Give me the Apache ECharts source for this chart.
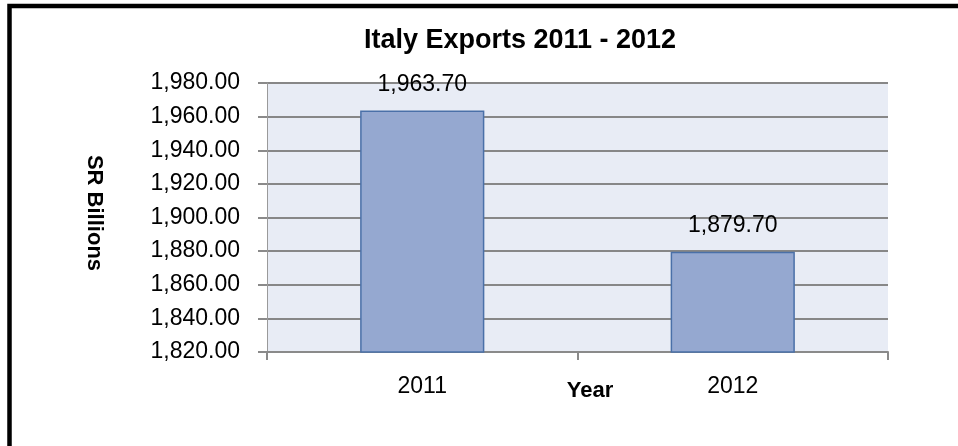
<!DOCTYPE html>
<html>
<head>
<meta charset="utf-8">
<script src="https://cdn.jsdelivr.net/npm/echarts@6/dist/echarts.min.js"></script>
<style>
html,body{margin:0;padding:0;background:#fff;}
#c{width:958px;height:446px;}
</style>
</head>
<body>
<div id="c"></div>
<script>
const titleText = 'Italy Exports 2011 - 2012';
const categories = ['2011', '2012'];
const exportsValues = [1963.70, 1879.70];
const yMin = 1820, yMax = 1980, yStep = 20;
const yName = 'SR Billions';
const xName = 'Year';

const FONT = '"Liberation Sans", Arial, sans-serif';
const fmt = v => Number(v).toLocaleString('en-US', {minimumFractionDigits: 2, maximumFractionDigits: 2});

const chart = echarts.init(document.getElementById('c'), null, {renderer: 'canvas'});
chart.setOption({
  animation: false,
  backgroundColor: '#ffffff',
  textStyle: {fontFamily: FONT},
  title: {
    text: titleText,
    left: 515, top: 22,
    textAlign: 'center',
    textStyle: {fontFamily: FONT, fontSize: 27, fontWeight: 'bold', color: '#000'}
  },
  grid: {
    left: 267, right: 70, top: 83, bottom: 94,
    show: true, backgroundColor: '#E8ECF5', borderWidth: 0
  },
  xAxis: {
    type: 'category',
    data: categories,
    boundaryGap: true,
    axisLine: {show: true, lineStyle: {color: '#8a8a8a', width: 2}},
    axisTick: {show: true, length: 8, alignWithLabel: false, lineStyle: {color: '#8a8a8a', width: 2}},
    axisLabel: {margin: 23, fontSize: 23, color: '#000', fontFamily: FONT}
  },
  yAxis: {
    type: 'value',
    min: yMin, max: yMax, interval: yStep,
    axisLine: {show: true, lineStyle: {color: '#9a9a9a', width: 1}},
    axisTick: {show: true, length: 9, lineStyle: {color: '#8a8a8a', width: 2}},
    splitLine: {show: true, lineStyle: {color: '#878787', width: 2}},
    axisLabel: {margin: 27, fontSize: 23, color: '#000', fontFamily: FONT, formatter: v => fmt(v)}
  },
  graphic: [
    {type: 'rect', silent: true, shape: {x: 9.5, y: 6, width: 1200, height: 800},
     style: {fill: 'none', stroke: '#000', lineWidth: 4.5}},
    {type: 'text', x: 94, y: 213, rotation: -Math.PI / 2,
     style: {text: yName, fontFamily: FONT, fontSize: 22, fontWeight: 'bold', fill: '#000',
             textAlign: 'center', textVerticalAlign: 'middle'}},
    {type: 'text', x: 590, y: 391,
     style: {text: xName, fontFamily: FONT, fontSize: 22, fontWeight: 'bold', fill: '#000',
             textAlign: 'center', textVerticalAlign: 'middle'}}
  ],
  series: [{
    type: 'bar',
    data: exportsValues,
    barWidth: '40%',
    itemStyle: {color: '#95A8D0', borderColor: '#4A70A8', borderWidth: 1.5},
    label: {show: true, position: 'top', distance: 14, fontSize: 23, color: '#000',
            fontFamily: FONT, formatter: p => fmt(p.value)}
  }]
});
</script>
</body>
</html>
